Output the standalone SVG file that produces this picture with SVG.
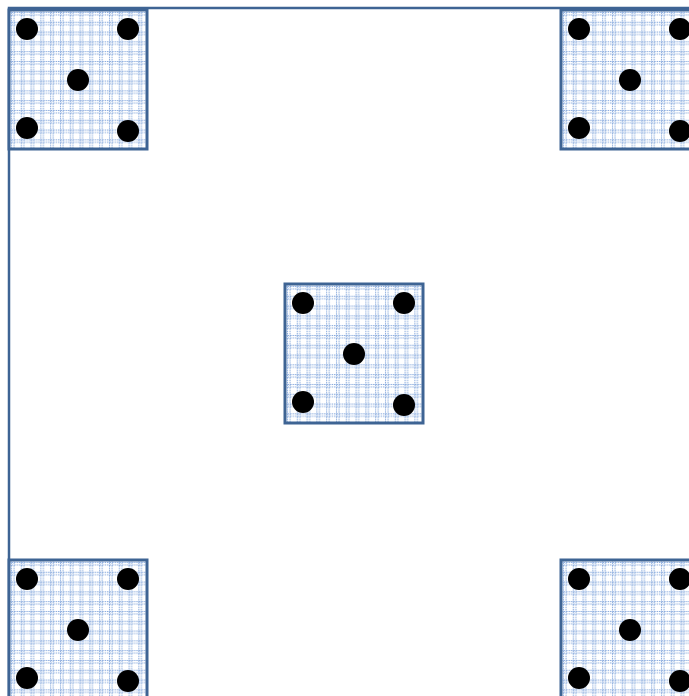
<svg xmlns="http://www.w3.org/2000/svg" width="689" height="696" viewBox="0 0 689 696">
  <style>
    .frame { fill: none; stroke: #3E6494; stroke-width: 2.5; }
    .box { stroke: #3E6494; stroke-width: 3; }
    .bg { fill: #ffffff; }
    .dot { fill: #000000; }
    .gl { stroke: #5B8AD0; stroke-width: 1; stroke-dasharray: 1.5 1; opacity: 0.75; }
  </style>
  <defs>
    <pattern id="grid" patternUnits="userSpaceOnUse" x="0" y="0" width="9.8" height="9.8">
      <line class="gl" x1="2.5" y1="0" x2="2.5" y2="9.8"/>
      <line class="gl" x1="5" y1="0" x2="5" y2="9.8"/>
      <line class="gl" x1="0" y1="2.5" x2="9.8" y2="2.5"/>
      <line class="gl" x1="0" y1="5" x2="9.8" y2="5"/>
    </pattern>
    <g id="tile">
      <rect class="bg" x="0" y="0" width="138" height="139"/>
      <rect x="0" y="0" width="138" height="139" fill="url(#grid)"/>
      <rect class="box" x="0" y="0" width="138" height="139" fill="none"/>
      <circle class="dot" cx="18" cy="19" r="11"/>
      <circle class="dot" cx="119" cy="19" r="11"/>
      <circle class="dot" cx="69" cy="70" r="11"/>
      <circle class="dot" cx="18" cy="118" r="11"/>
      <circle class="dot" cx="119" cy="121" r="11"/>
    </g>
  </defs>
  <rect width="689" height="696" fill="#ffffff"/>
  <g id="connectors">
    <rect class="frame" x="9" y="8" width="700" height="700"/>
  </g>
  <g id="tile-top-left" transform="translate(9,10)"><use href="#tile"/></g>
  <g id="tile-top-right" transform="translate(561,10)"><use href="#tile"/></g>
  <g id="tile-center" transform="translate(285,284)"><use href="#tile"/></g>
  <g id="tile-bottom-left" transform="translate(9,560)"><use href="#tile"/></g>
  <g id="tile-bottom-right" transform="translate(561,560)"><use href="#tile"/></g>
</svg>
